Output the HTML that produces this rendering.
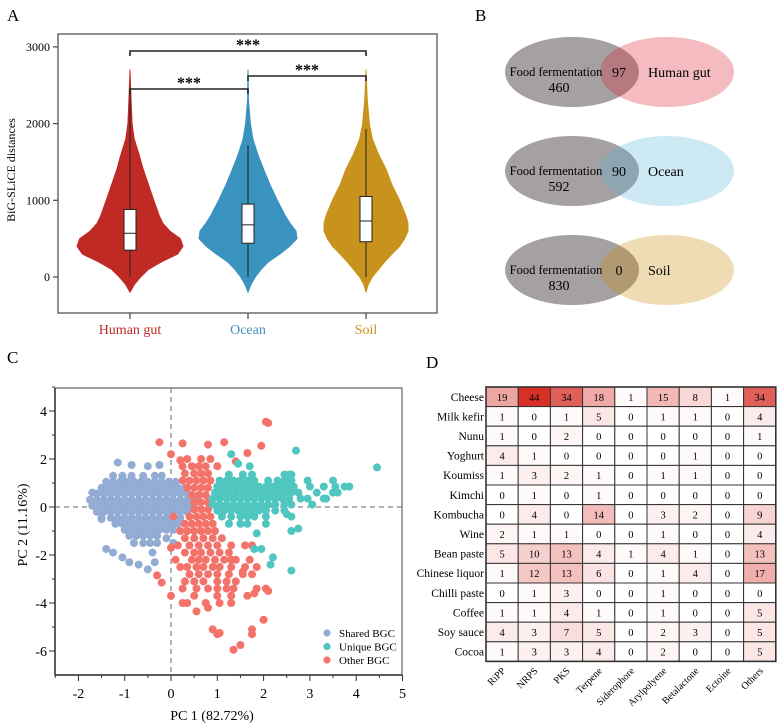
<!DOCTYPE html>
<html><head><meta charset="utf-8"><style>
body{margin:0;background:#fff}
svg{display:block;font-family:"Liberation Serif",serif}
</style></head><body>
<svg id="fig" width="778" height="724" viewBox="0 0 778 724">
<g id="pa"></g>
<g id="pb"></g>
<g id="pc"></g>
<g id="pd"></g>
</svg>
<script>
// ---------- Panel A data ----------
const violinGroups = ["Human gut","Ocean","Soil"];
const violinColors = ["#c02a24","#3a93bf","#c8931c"];
const violinMaxWidth = [53,49,42];
const densityValues = [-200,-100,0,100,200,300,400,500,600,700,800,1000,1200,1400,1600,1800,2000,2300,2700];
const densityGut   = [0,0.08,0.2,0.35,0.6,0.9,1.0,0.95,0.75,0.62,0.55,0.45,0.35,0.25,0.17,0.08,0.04,0.02,0];
const densityOcean = [0,0.06,0.15,0.27,0.42,0.65,0.85,1.0,0.98,0.86,0.76,0.6,0.45,0.32,0.2,0.1,0.05,0.01,0];
const densitySoil  = [0,0.05,0.15,0.3,0.45,0.62,0.8,0.92,1.0,1.0,0.95,0.8,0.62,0.48,0.3,0.15,0.08,0.03,0];
const boxQ1 = [350,440,460];
const boxMedian = [570,680,730];
const boxQ3 = [880,950,1050];
const whiskerLow = [0,0,0];
const whiskerHigh = [2450,1720,1930];
const yTicksA = [0,1000,2000,3000];

// ---------- Panel B data ----------
const vennLabels = ["Human gut","Ocean","Soil"];
const vennFoodOnly = [460,592,830];
const vennShared = [97,90,0];
const vennColors = ["rgb(218,32,45)","rgb(88,182,215)","rgb(205,138,5)"];

// ---------- Panel C data ----------
const sharedRows = [
 [1.3,[-1.25,-1.05,-0.85,-0.6,-0.35,-0.2]],
 [1.05,[-1.4,-1.25,-1.1,-0.95,-0.8,-0.65,-0.5,-0.35,-0.2,-0.05,0.1]],
 [0.8,[-1.5,-1.35,-1.2,-1.05,-0.9,-0.75,-0.6,-0.45,-0.3,-0.15,0,0.15,0.3]],
 [0.55,[-1.6,-1.45,-1.3,-1.15,-1.0,-0.85,-0.7,-0.55,-0.4,-0.25,-0.1,0.05,0.2,0.35]],
 [0.3,[-1.75,-1.6,-1.45,-1.3,-1.15,-1.0,-0.85,-0.7,-0.55,-0.4,-0.25,-0.1,0.05,0.2,0.35,0.5]],
 [0.05,[-1.7,-1.55,-1.4,-1.25,-1.1,-0.95,-0.8,-0.65,-0.5,-0.35,-0.2,-0.05,0.1,0.25,0.4,0.5]],
 [-0.2,[-1.6,-1.45,-1.3,-1.15,-1.0,-0.85,-0.7,-0.55,-0.4,-0.25,-0.1,0.05,0.2,0.35]],
 [-0.45,[-1.5,-1.3,-1.15,-1.0,-0.85,-0.7,-0.55,-0.4,-0.25,-0.1,0.05,0.2]],
 [-0.7,[-1.2,-1.05,-0.9,-0.75,-0.6,-0.45,-0.3,-0.15,0,0.15]],
 [-0.95,[-1.0,-0.85,-0.7,-0.55,-0.4,-0.25,-0.1,0.05]],
 [-1.2,[-0.9,-0.75,-0.6,-0.45,-0.3]],
 [-1.5,[-0.8,-0.6,-0.45,-0.3]]
];
const sharedExtra = [[-1.4,-1.75],[-1.25,-1.9],[-1.05,-2.1],[-0.9,-2.3],[-0.7,-2.4],[-0.5,-2.6],[-0.4,-1.9],[-0.35,-2.3],[-1.15,1.85],[-0.85,1.75],[-0.5,1.7],[-0.25,1.75],[-1.5,-0.5],[-1.7,0.6],[0.05,-1.5],[-0.1,-1.3]];
const otherRows = [
 [2.0,[0.35,0.65,0.85]],
 [1.7,[0.25,0.45,0.6,0.75]],
 [1.4,[0.3,0.5,0.65,0.8]],
 [1.1,[0.25,0.4,0.55,0.7,0.85]],
 [0.8,[0.35,0.5,0.65,0.8]],
 [0.5,[0.45,0.6,0.75]],
 [0.2,[0.5,0.65,0.8]],
 [-0.1,[0.5,0.65,0.8]],
 [-0.4,[0.4,0.55,0.7,0.85]],
 [-0.7,[0.3,0.45,0.6,0.75,0.9]],
 [-1.0,[0.2,0.35,0.5,0.65,0.8,0.95]],
 [-1.3,[0.3,0.5,0.7,0.9,1.1]],
 [-1.6,[0.15,0.4,0.6,0.8,1.0,1.3,1.6,1.75]],
 [-1.9,[0.3,0.5,0.65,0.85,1.05,1.25]],
 [-2.2,[0.1,0.45,0.6,0.75,0.95,1.15,1.4,1.7]],
 [-2.5,[0.2,0.35,0.55,0.7,0.9,1.05,1.3,1.6,1.85]],
 [-2.8,[0.4,0.6,0.8,1.0,1.25,1.55,1.75]],
 [-3.1,[0.3,0.5,0.7,1.0,1.2,1.4]],
 [-3.4,[0.25,0.55,0.8,1.0,1.2,1.35,1.85,2.05]],
 [-3.7,[0.0,0.5,1.0,1.3,1.65]],
 [-4.0,[0.25,0.35,0.75,1.05,1.3]]
];
const otherExtra = [[-0.25,2.7],[0.25,2.65],[0.8,2.6],[1.15,2.7],[1.95,2.55],[1.65,2.25],[2.05,3.55],[2.1,3.5],[0.0,2.2],[0.2,1.95],[1.4,1.9],[1.0,1.7],[0.05,-0.4],[0.0,-1.7],[-0.3,-2.85],[-0.2,-3.15],[0.55,-4.35],[0.8,-4.2],[2.0,-4.7],[0.9,-5.1],[1.0,-5.3],[1.75,-5.1],[1.75,-5.3],[1.35,-5.95],[1.5,-5.75],[1.05,-5.25],[2.1,-3.5],[1.8,-3.6],[1.3,-2.2],[1.55,-2.7]];
const uniqueRows = [
 [1.35,[1.25,1.55,1.75,2.45,2.55,2.6]],
 [1.1,[1.05,1.2,1.35,1.5,1.65,1.8,2.1,2.3,2.45,2.6,3.5]],
 [0.85,[1.0,1.15,1.3,1.45,1.6,1.75,1.9,2.05,2.2,2.35,2.5,2.65,3.0,3.3,3.55,3.75,3.85]],
 [0.6,[0.95,1.1,1.25,1.4,1.55,1.7,1.85,2.0,2.15,2.3,2.45,2.6,2.75,3.15,3.5,3.6]],
 [0.35,[0.9,1.05,1.2,1.35,1.5,1.65,1.8,1.95,2.1,2.25,2.4,2.55,2.8,2.95,3.3]],
 [0.1,[0.9,1.05,1.2,1.35,1.5,1.65,1.8,1.95,2.1,2.25,2.45,2.6,3.05]],
 [-0.15,[1.0,1.15,1.3,1.45,1.6,1.75,1.9,2.05,2.25,2.45]],
 [-0.4,[1.1,1.3,1.5,1.65,1.8,2.05,2.6]],
 [-0.7,[1.25,1.5,1.65,2.05]]
];
const uniqueExtra = [[1.3,2.2],[2.7,2.35],[4.45,1.65],[1.45,1.8],[1.7,1.7],[2.6,-1.0],[2.75,-0.9],[1.85,-1.1],[1.8,-1.75],[1.95,-1.75],[2.2,-2.1],[2.15,-2.4],[2.6,-2.65],[2.5,-0.3],[3.35,0.35],[2.95,1.1]];
const xTicksC = [-2,-1,0,1,2,3,4,5];
const yTicksC = [-6,-4,-2,0,2,4];
const legendC = ["Shared BGC","Unique BGC","Other BGC"];
const colorsC = ["#93acd3","#4fc6bf","#f3736b"];

// ---------- Panel D data ----------
const heatRows = ["Cheese","Milk kefir","Nunu","Yoghurt","Koumiss","Kimchi","Kombucha","Wine","Bean paste","Chinese liquor","Chilli paste","Coffee","Soy sauce","Cocoa"];
const heatCols = ["RiPP","NRPS","PKS","Terpene","Siderophore","Arylpolyene","Betalactone","Ectoine","Others"];
const heatValues = [
 [19,44,34,18,1,15,8,1,34],
 [1,0,1,5,0,1,1,0,4],
 [1,0,2,0,0,0,0,0,1],
 [4,1,0,0,0,0,1,0,0],
 [1,3,2,1,0,1,1,0,0],
 [0,1,0,1,0,0,0,0,0],
 [0,4,0,14,0,3,2,0,9],
 [2,1,1,0,0,1,0,0,4],
 [5,10,13,4,1,4,1,0,13],
 [1,12,13,6,0,1,4,0,17],
 [0,1,3,0,0,1,0,0,0],
 [1,1,4,1,0,1,0,0,5],
 [4,3,7,5,0,2,3,0,5],
 [1,3,3,4,0,2,0,0,5]
];

const NS="http://www.w3.org/2000/svg";
function mk(parent,tag,attrs,text){const e=document.createElementNS(NS,tag);for(const k in attrs)e.setAttribute(k,attrs[k]);if(text!==undefined)e.textContent=text;parent.appendChild(e);return e;}

// ---------- Panel A ----------
(function(){
 const g=document.getElementById('pa');
 const L=58,T=34,R=437,B=313;
 const y=v=>277-v*0.0767;
 const cxs=[130,248,366];
 let t=mk(g,'text',{x:7,y:21,'font-size':17},'A');
 
 
 const dens=[densityGut,densityOcean,densitySoil];
 violinGroups.forEach((name,i)=>{
  const cx=cxs[i];let right=[],left=[];
  densityValues.forEach((v,j)=>{right.push((cx+dens[i][j]*violinMaxWidth[i]).toFixed(1)+','+y(v).toFixed(1));});
  for(let j=densityValues.length-1;j>=0;j--)left.push((cx-dens[i][j]*violinMaxWidth[i]).toFixed(1)+','+y(densityValues[j]).toFixed(1));
  const p=mk(g,'polygon',{points:right.concat(left).join(' '),fill:violinColors[i],'stroke':violinColors[i],'stroke-linejoin':'round','stroke-width':1});
  
  
  const w=mk(g,'line',{x1:cx,x2:cx,y1:y(whiskerLow[i]),y2:y(whiskerHigh[i]),stroke:'#222','stroke-width':1});
  
  
  const b=mk(g,'rect',{x:cx-6,width:12,y:y(boxQ3[i]),height:y(boxQ1[i])-y(boxQ3[i]),fill:'#fff',stroke:'#222','stroke-width':1});
  
  
  const m=mk(g,'line',{x1:cx-6,x2:cx+6,y1:y(boxMedian[i]),y2:y(boxMedian[i]),stroke:'#222','stroke-width':1});
  
  
  const tk=mk(g,'line',{x1:cx,x2:cx,y1:B,y2:B+6,stroke:'#444','stroke-width':1.2});
  
  
  const lb=mk(g,'text',{x:cx,y:334,'text-anchor':'middle','font-size':14,fill:violinColors[i]},name);
  
  
 });
 const fr=mk(g,'rect',{x:L,y:T,width:R-L,height:B-T,fill:'none',stroke:'#555','stroke-width':1.3});
 
 
 yTicksA.forEach(v=>{
  const l=mk(g,'line',{x1:L-5,x2:L,y1:y(v),y2:y(v),stroke:'#444','stroke-width':1.2});
  
  
  const tx=mk(g,'text',{x:L-8,y:y(v)+4,'text-anchor':'end','font-size':12},v);
  
  
 });
 const yl=mk(g,'text',{transform:'translate(15,170) rotate(-90)','text-anchor':'middle','font-size':12},'BiG-SLiCE distances');
 
 
 const br=[[130,366,51],[130,248,89],[248,366,76]];
 br.forEach(b=>{
  const p=mk(g,'path',{d:`M${b[0]},${b[2]+5}V${b[2]}H${b[1]}V${b[2]+5}`,fill:'none',stroke:'#222','stroke-width':1.6});
  
  
  const s=mk(g,'text',{x:(b[0]+b[1])/2,y:b[2]-1,'text-anchor':'middle','font-size':16,'font-weight':'bold'},'***');
  
  
 });
})();

// ---------- Panel B ----------
(function(){
 const g=document.getElementById('pb');
 let t=mk(g,'text',{x:475,y:21,'font-size':17},'B');
 
 
 const cys=[72,171,270];
 vennLabels.forEach((name,i)=>{
  const cy=cys[i];
  const e1=mk(g,'ellipse',{cx:572,cy:cy,rx:67,ry:35,fill:'#a5a0a2'});
  
  
  const e2=mk(g,'ellipse',{cx:667,cy:cy,rx:67,ry:35,fill:vennColors[i],'fill-opacity':0.3});
  
  
  const a=mk(g,'text',{x:556,y:cy+4,'text-anchor':'middle','font-size':12.5},'Food fermentation');
  
  
  const n=mk(g,'text',{x:559,y:cy+20,'text-anchor':'middle','font-size':14},vennFoodOnly[i]);
  
  
  const s=mk(g,'text',{x:619,y:cy+5,'text-anchor':'middle','font-size':14},vennShared[i]);
  
  
  const o=mk(g,'text',{x:648,y:cy+5,'font-size':14},name);
  
  
 });
})();

// ---------- Panel C ----------
(function(){
 const g=document.getElementById('pc');
 const L=55,T=388,R=402,B=675;
 const x=v=>171+v*46.3, y=v=>507-v*24;
 let t=mk(g,'text',{x:7,y:363,'font-size':17},'C');
 
 
 const d1=mk(g,'line',{x1:x(0),x2:x(0),y1:T,y2:B,stroke:'#888','stroke-width':1.3,'stroke-dasharray':'5,4'});
 
 
 const d2=mk(g,'line',{x1:L,x2:R,y1:y(0),y2:y(0),stroke:'#888','stroke-width':1.3,'stroke-dasharray':'5,4'});
 
 
 function draw(rows,extra,color,name){
  const gg=mk(g,'g',{fill:color});
  
  
  const pts=[];rows.forEach(r=>r[1].forEach(xv=>pts.push([xv,r[0]])));extra.forEach(p=>pts.push(p));
  pts.forEach(p=>{const c=mk(gg,'circle',{cx:x(p[0]).toFixed(1),cy:y(p[1]).toFixed(1),r:4});
   
   });
 }
 draw(sharedRows,sharedExtra,colorsC[0],'series-shared-bgc');
 draw(otherRows,otherExtra,colorsC[2],'series-other-bgc');
 draw(uniqueRows,uniqueExtra,colorsC[1],'series-unique-bgc');
 const fr=mk(g,'path',{d:`M${L},${T}H${R}V${B}H${L}Z`,fill:'none',stroke:'#666','stroke-width':1.2});
 
 
 mk(g,'line',{x1:L,x2:L,y1:T,y2:B,stroke:'#333','stroke-width':1.5});
 mk(g,'line',{x1:L,x2:R,y1:B,y2:B,stroke:'#333','stroke-width':1.5});
 xTicksC.forEach(v=>{
  const l=mk(g,'line',{x1:x(v),x2:x(v),y1:B,y2:B+6,stroke:'#333'});
  
  
  const m=mk(g,'line',{x1:x(v-0.5),x2:x(v-0.5),y1:B,y2:B+3,stroke:'#333'});
  
  
  const tx=mk(g,'text',{x:x(v),y:698,'text-anchor':'middle','font-size':14},v);
  
  
 });
 yTicksC.forEach(v=>{
  const l=mk(g,'line',{x1:L-6,x2:L,y1:y(v),y2:y(v),stroke:'#333'});
  
  
  const m=mk(g,'line',{x1:L-3,x2:L,y1:y(v+1),y2:y(v+1),stroke:'#333'});
  
  
  const tx=mk(g,'text',{x:L-8,y:y(v)+5,'text-anchor':'end','font-size':14},v);
  
  
 });
 const xl=mk(g,'text',{x:212,y:720,'text-anchor':'middle','font-size':14},'PC 1 (82.72%)');
 
 
 const yl=mk(g,'text',{transform:'translate(27,525) rotate(-90)','text-anchor':'middle','font-size':14},'PC 2 (11.16%)');
 
 
 legendC.forEach((name,i)=>{
  const c=mk(g,'circle',{cx:327,cy:633+i*13.5,r:3.6,fill:colorsC[i]});
  
  
  const tx=mk(g,'text',{x:339,y:637+i*13.5,'font-size':11},name);
  
  
 });
})();

// ---------- Panel D ----------
(function(){
 const g=document.getElementById('pd');
 const L=486,T=387,cw=32.2,rh=19.6;
 let t=mk(g,'text',{x:426,y:368,'font-size':17},'D');
 
 
 const color=v=>{const k=v/44;return `rgb(${Math.round(255-k*40)},${Math.round(255-k*207)},${Math.round(255-k*216)})`;};
 heatRows.forEach((rn,i)=>{
  const lb=mk(g,'text',{x:L-2,y:T+i*rh+rh/2+4,'text-anchor':'end','font-size':11.5},rn);
  
  
  heatCols.forEach((cn,j)=>{
   const v=heatValues[i][j];
   const r=mk(g,'rect',{x:L+j*cw,y:T+i*rh,width:cw,height:rh,fill:color(v),stroke:'#333','stroke-width':1});
   
   
   const tx=mk(g,'text',{x:L+j*cw+cw/2,y:T+i*rh+rh/2+4,'text-anchor':'middle','font-size':10.5},v);
   
   
  });
 });
 const fr=mk(g,'rect',{x:L,y:T,width:cw*heatCols.length,height:rh*heatRows.length,fill:'none',stroke:'#333','stroke-width':1.6});
 
 
 const by=T+rh*heatRows.length;
 heatCols.forEach((cn,j)=>{
  const cx=L+j*cw+cw/2+4, cy=by+10;
  const tx=mk(g,'text',{x:cx,y:cy,'text-anchor':'end','font-size':10,transform:`rotate(-45 ${cx} ${cy})`},cn);
  
  
 });
})();
</script>
</body></html>
